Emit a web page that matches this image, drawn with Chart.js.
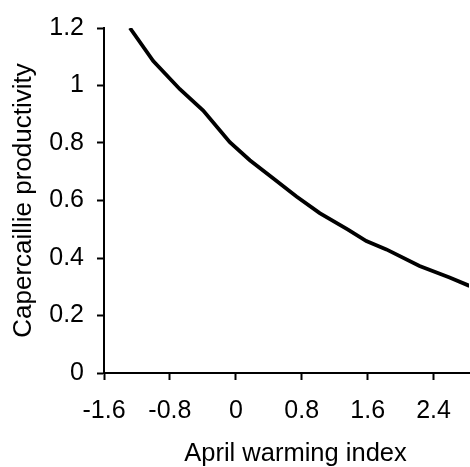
<!DOCTYPE html>
<html>
<head>
<meta charset="utf-8">
<script src="https://cdn.jsdelivr.net/npm/chart.js@4/dist/chart.umd.min.js"></script>
<style>
    html, body { margin: 0; padding: 0; background: #fff; }
    #wrap { width: 470px; height: 467px; }
</style>
</head>
<body>
<div id="wrap"><canvas id="productivityChart" width="470" height="467"></canvas></div>
<script>
'use strict';

// Fitted productivity against the April warming index
const warmingIndex = [-1.285, -1.002, -0.679, -0.396, -0.073, 0.17, 0.452, 0.736, 1.018, 1.361, 1.584, 1.827, 2.23, 2.594, 2.836];
const productivity = [1.2, 1.085, 0.987, 0.913, 0.803, 0.74, 0.677, 0.614, 0.556, 0.499, 0.459, 0.43, 0.372, 0.332, 0.303];

const xTicks = [-1.6, -0.8, 0, 0.8, 1.6, 2.4];
const yTicks = [0, 0.2, 0.4, 0.6, 0.8, 1, 1.2];
const xRange = [-1.6, 2.83];
const yRange = [0, 1.2];

const xTitle = 'April warming index';
const yTitle = 'Capercaillie productivity';

const fontFamily = '"Liberation Sans", Arial, sans-serif';

function setTicks(values) {
    return (scale) => {
        scale.ticks = values.map((value) => ({ value }));
    };
}

function tickLabel(value) {
    return String(Math.round(value * 10) / 10);
}

// x title sits a little right of the plot centre, under the longer axis
const xTitlePlugin = {
    id: 'xTitle',
    afterDraw(chart) {
        const { ctx, chartArea } = chart;
        ctx.save();
        ctx.font = `25.5px ${fontFamily}`;
        ctx.fillStyle = '#000';
        ctx.textAlign = 'center';
        ctx.textBaseline = 'alphabetic';
        ctx.fillText(xTitle, (chartArea.left + chartArea.right) / 2 + 9, chart.height - 6);
        ctx.restore();
    }
};

const axisStyle = {
    border: { display: true, color: '#000', width: 2 },
    grid: { drawOnChartArea: false, drawTicks: true, tickLength: 7, tickWidth: 2, tickColor: '#000' }
};

new Chart(document.getElementById('productivityChart'), {
    type: 'line',
    data: {
        datasets: [{
            data: warmingIndex.map((x, i) => ({ x, y: productivity[i] })),
            borderColor: '#000',
            borderWidth: 3.8,
            pointRadius: 0,
            tension: 0,
            fill: false
        }]
    },
    options: {
        responsive: false,
        animation: false,
        events: [],
        layout: { padding: { top: 25, right: 1, left: 0, bottom: 0 } },
        plugins: {
            legend: { display: false },
            tooltip: { enabled: false }
        },
        scales: {
            x: {
                type: 'linear',
                min: xRange[0],
                max: xRange[1],
                ...axisStyle,
                afterBuildTicks: setTicks(xTicks),
                afterFit: (scale) => { scale.height = 94; },
                ticks: {
                    color: '#000',
                    padding: 16,
                    maxRotation: 0,
                    autoSkip: false,
                    font: { family: fontFamily, size: 25 },
                    callback: tickLabel
                },
                title: { display: false }
            },
            y: {
                type: 'linear',
                min: yRange[0],
                max: yRange[1],
                ...axisStyle,
                afterBuildTicks: setTicks(yTicks),
                afterFit: (scale) => { scale.width = 104; },
                ticks: {
                    color: '#000',
                    padding: 13,
                    autoSkip: false,
                    font: { family: fontFamily, size: 25 },
                    callback: tickLabel
                },
                title: {
                    display: true,
                    text: yTitle,
                    color: '#000',
                    padding: { top: 8.5, bottom: 0 },
                    font: { family: fontFamily, size: 26 }
                }
            }
        }
    },
    plugins: [xTitlePlugin]
});
</script>
</body>
</html>
